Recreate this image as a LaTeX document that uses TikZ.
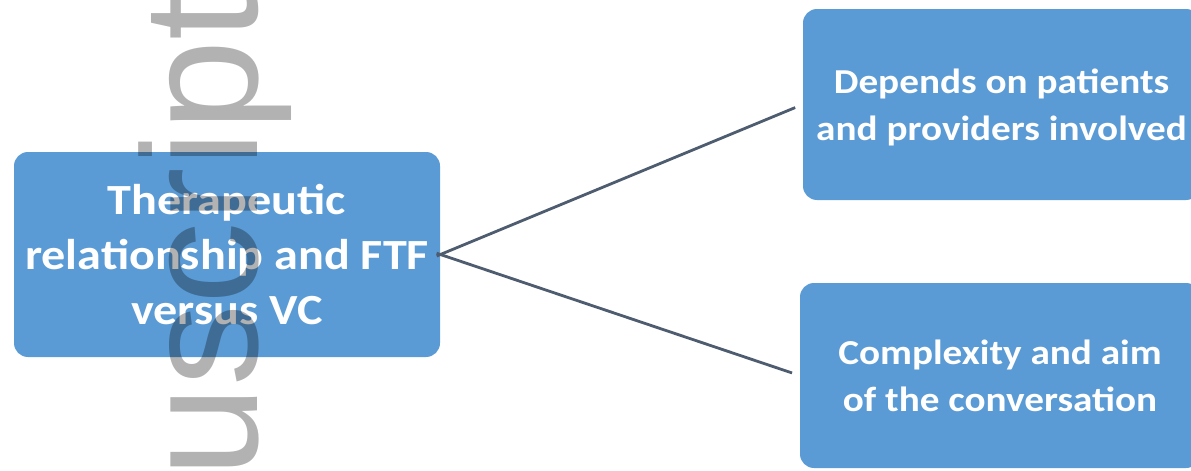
\documentclass[tikz,border=0pt]{standalone}
\usepackage{fontspec}
\setmainfont{Carlito}
\newfontfamily\boxfont[FakeStretch=1.12]{Carlito}
\newfontfamily\wmfont{Liberation Sans}
\definecolor{boxblue}{HTML}{5B9BD5}
\definecolor{linegray}{RGB}{78,92,112}

\begin{document}
\begin{tikzpicture}[
		x=0.5pt, y=-0.5pt,
		m/.style = {rectangle, fill=boxblue, rounded corners=7pt, text=white, align=center, inner sep=0pt,
			font=\boxfont\bfseries\fontsize{21.5}{27.5}\selectfont},
		k/.style = {rectangle, fill=boxblue, rounded corners=7pt, text=white, align=center, inner sep=0pt,
			font=\boxfont\bfseries\fontsize{17.5}{23.5}\selectfont},
		r/.style = {-, line width=1.4pt, draw=linegray, shorten >=4pt, shorten <=-2pt},
		w/.style = {rotate=90, anchor=base west, inner sep=0pt, text=black, text opacity=0.3,
			font=\wmfont\fontsize{82}{82}\selectfont}
		]
		\useasboundingbox (0,0) rectangle (1191,471);
		
		% === === Nodes === ===
		\node[m, minimum width=213pt, minimum height=102.5pt]	(ther)	at	(227, 254.5)	{Therapeutic\\relationship and FTF\\versus VC};
		\node[k, minimum width=198.5pt, minimum height=95.5pt, text depth=-4pt]	(dep)	at	(1001.5, 104.5)	{Depends on patients\\and providers involved};
		\node[k, minimum width=200pt, minimum height=92.5pt, text depth=-3pt]	(comp)	at	(1000, 375.5)	{Complexity and aim\\of the conversation};
		
		% === === Lines === ===
		\draw[r]	(ther.east)	--	(dep.west);
		\draw[r]	(ther.east)	--	(comp.west);
		
		% watermark
		\node[w]	(wm)	at	(257, 478)	{uscript};
		
	\end{tikzpicture}
\end{document}
